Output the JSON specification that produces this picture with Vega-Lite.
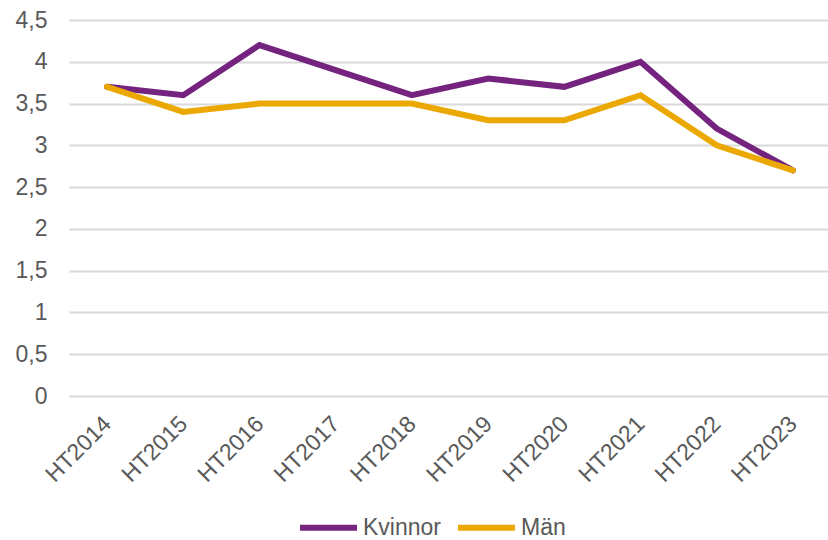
{
  "$schema": "https://vega.github.io/schema/vega-lite/v6.json",
  "autosize": "none",
  "width": 762,
  "height": 376,
  "padding": {"left": 69, "top": 20, "right": 0, "bottom": 144},
  "background": "white",
  "config": {
    "font": "Liberation Sans",
    "view": {"stroke": null}
  },
  "data": {
    "values": [
      {"termin": "HT2014", "kon": "Kvinnor", "varde": 3.7},
      {"termin": "HT2015", "kon": "Kvinnor", "varde": 3.6},
      {"termin": "HT2016", "kon": "Kvinnor", "varde": 4.2},
      {"termin": "HT2017", "kon": "Kvinnor", "varde": 3.9},
      {"termin": "HT2018", "kon": "Kvinnor", "varde": 3.6},
      {"termin": "HT2019", "kon": "Kvinnor", "varde": 3.8},
      {"termin": "HT2020", "kon": "Kvinnor", "varde": 3.7},
      {"termin": "HT2021", "kon": "Kvinnor", "varde": 4.0},
      {"termin": "HT2022", "kon": "Kvinnor", "varde": 3.2},
      {"termin": "HT2023", "kon": "Kvinnor", "varde": 2.7},
      {"termin": "HT2014", "kon": "Män", "varde": 3.7},
      {"termin": "HT2015", "kon": "Män", "varde": 3.4},
      {"termin": "HT2016", "kon": "Män", "varde": 3.5},
      {"termin": "HT2017", "kon": "Män", "varde": 3.5},
      {"termin": "HT2018", "kon": "Män", "varde": 3.5},
      {"termin": "HT2019", "kon": "Män", "varde": 3.3},
      {"termin": "HT2020", "kon": "Män", "varde": 3.3},
      {"termin": "HT2021", "kon": "Män", "varde": 3.6},
      {"termin": "HT2022", "kon": "Män", "varde": 3.0},
      {"termin": "HT2023", "kon": "Män", "varde": 2.7}
    ]
  },
  "mark": {"type": "line", "strokeWidth": 6, "strokeJoin": "miter", "strokeCap": "round"},
  "encoding": {
    "x": {
      "field": "termin",
      "type": "ordinal",
      "scale": {"type": "point", "padding": 0.5},
      "axis": {
        "title": null,
        "domain": false,
        "ticks": false,
        "labelAngle": -45,
        "labelAlign": "right",
        "labelBaseline": "middle",
        "labelPadding": 24,
        "labelFontSize": 23,
        "labelColor": "#595959"
      }
    },
    "y": {
      "field": "varde",
      "type": "quantitative",
      "scale": {"domain": [0, 4.5], "nice": false},
      "axis": {
        "title": null,
        "values": [0, 0.5, 1, 1.5, 2, 2.5, 3, 3.5, 4, 4.5],
        "labelExpr": "replace(format(datum.value, '~g'), '.', ',')",
        "domain": false,
        "ticks": false,
        "grid": true,
        "gridColor": "#d9d9d9",
        "gridWidth": 2,
        "labelPadding": 22,
        "labelFontSize": 23,
        "labelColor": "#595959"
      }
    },
    "color": {
      "field": "kon",
      "type": "nominal",
      "scale": {"domain": ["Kvinnor", "Män"], "range": ["#74237F", "#EBA800"]},
      "legend": {
        "title": null,
        "orient": "none",
        "direction": "horizontal",
        "legendX": 242,
        "legendY": 490,
        "symbolType": "M-2,0H2",
        "symbolStrokeWidth": 6,
        "symbolSize": 812,
        "labelFontSize": 23,
        "labelColor": "#595959",
        "labelOffset": 17,
        "columnPadding": 5,
        "symbolFillColor": "transparent"
      }
    }
  }
}
